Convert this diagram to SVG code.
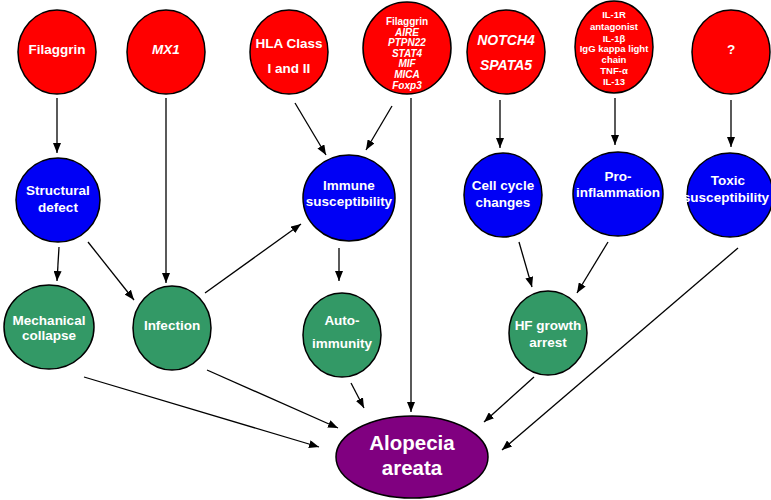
<svg xmlns="http://www.w3.org/2000/svg" width="771" height="500" viewBox="0 0 771 500">
<defs>
<style>
.red{fill:#ff0000;stroke:#000;stroke-width:1.5}
.blue{fill:#0000f5;stroke:#000;stroke-width:1.5}
.green{fill:#339966;stroke:#000;stroke-width:1.5}
.purple{fill:#800080;stroke:#000;stroke-width:1.5}
text{font-family:"Liberation Sans",Arial,sans-serif;font-weight:bold;fill:#fff;text-anchor:middle}
.t{font-size:13.5px}
.s{font-size:10px}
.xs{font-size:9.5px}
.i{font-style:italic}
.big{font-size:20.5px}
.c line{stroke:#000;stroke-width:1.3;marker-end:url(#ah)}
</style>
<marker id="ah" markerUnits="userSpaceOnUse" markerWidth="10" markerHeight="8" refX="10" refY="4" orient="auto">
<path d="M0,0 L10,4 L0,8 z" fill="#000"/>
</marker>
</defs>
<g class="c" id="connectors">
<line x1="57" y1="98" x2="57" y2="153"/>
<line x1="166" y1="98" x2="166" y2="283"/>
<line x1="295" y1="103" x2="326" y2="155"/>
<line x1="392" y1="106" x2="366" y2="150"/>
<line x1="411" y1="98" x2="411" y2="412"/>
<line x1="500" y1="100" x2="500" y2="148"/>
<line x1="615" y1="98" x2="615" y2="145"/>
<line x1="731" y1="100" x2="731" y2="147"/>
<line x1="59" y1="247" x2="57" y2="281"/>
<line x1="88" y1="242" x2="134" y2="300"/>
<line x1="205" y1="293" x2="301" y2="224"/>
<line x1="339" y1="248" x2="339" y2="281"/>
<line x1="519" y1="242" x2="532" y2="287"/>
<line x1="608" y1="242" x2="577" y2="293"/>
<line x1="84" y1="377" x2="319" y2="447"/>
<line x1="207" y1="370" x2="338" y2="428"/>
<line x1="351" y1="383" x2="364" y2="408"/>
<line x1="534" y1="377" x2="484" y2="422"/>
<line x1="738" y1="248" x2="502" y2="450"/>
</g>
<g id="filaggrin"><ellipse class="red" cx="57" cy="52" rx="39" ry="42"/><text class="t" x="57" y="54">Filaggrin</text></g>
<g id="mx1"><ellipse class="red" cx="166" cy="52" rx="39" ry="42"/><text class="t i" x="166" y="54">MX1</text></g>
<g id="hla"><ellipse class="red" cx="289" cy="52" rx="39" ry="42"/><text class="t" x="289" y="48">HLA Class</text><text class="t" x="289" y="73">I and II</text></g>
<g id="genes"><ellipse class="red" cx="407" cy="48" rx="44" ry="46"/>
<text class="s" x="407" y="25">Filaggrin</text>
<text class="s i" x="407" y="36">AIRE</text>
<text class="s i" x="407" y="46">PTPN22</text>
<text class="s i" x="407" y="57">STAT4</text>
<text class="s i" x="407" y="67">MIF</text>
<text class="s i" x="407" y="78">MICA</text>
<text class="s i" x="407" y="89">Foxp3</text></g>
<g id="notch4"><ellipse class="red" cx="506" cy="52" rx="39" ry="42"/><text class="t i" x="506" y="45" style="font-size:14px">NOTCH4</text><text class="t i" x="506" y="70" style="font-size:14px">SPATA5</text></g>
<g id="il1r"><ellipse class="red" cx="614" cy="47" rx="39" ry="46"/>
<text class="xs" x="614" y="18">IL-1R</text>
<text class="xs" x="614" y="30">antagonist</text>
<text class="xs" x="614" y="42">IL-1β</text>
<text class="xs" x="614" y="52">IgG kappa light</text>
<text class="xs" x="614" y="63">chain</text>
<text class="xs" x="614" y="74">TNF-α</text>
<text class="xs" x="614" y="85">IL-13</text></g>
<g id="unknown"><ellipse class="red" cx="731" cy="52" rx="39" ry="42"/><text class="t" x="731" y="54">?</text></g>
<g id="structural"><ellipse class="blue" cx="58" cy="200" rx="42" ry="42"/><text class="t" x="58" y="195">Structural</text><text class="t" x="58" y="212">defect</text></g>
<g id="immune"><ellipse class="blue" cx="349" cy="198" rx="46" ry="43"/><text class="t" x="349" y="190">Immune</text><text class="t" x="349" y="206">susceptibility</text></g>
<g id="cellcycle"><ellipse class="blue" cx="503" cy="195" rx="39" ry="42"/><text class="t" x="503" y="190">Cell cycle</text><text class="t" x="503" y="207">changes</text></g>
<g id="proinflammation"><ellipse class="blue" cx="618" cy="194" rx="45" ry="42"/><text class="t" x="618" y="181">Pro-</text><text class="t" x="618" y="197">inflammation</text></g>
<g id="toxic"><ellipse class="blue" cx="730" cy="195" rx="43" ry="42"/><text class="t" x="728" y="185">Toxic</text><text class="t" x="726" y="202">susceptibility</text></g>
<g id="mechanical"><ellipse class="green" cx="49" cy="327" rx="45" ry="42"/><text class="t" x="49" y="325">Mechanical</text><text class="t" x="49" y="340">collapse</text></g>
<g id="infection"><ellipse class="green" cx="172" cy="328" rx="39" ry="42"/><text class="t" x="172" y="330">Infection</text></g>
<g id="autoimmunity"><ellipse class="green" cx="342" cy="335" rx="39" ry="42"/><text class="t" x="342" y="325">Auto-</text><text class="t" x="342" y="348">immunity</text></g>
<g id="hfgrowth"><ellipse class="green" cx="548" cy="333" rx="39" ry="42"/><text class="t" x="548" y="330">HF growth</text><text class="t" x="548" y="347">arrest</text></g>
<g id="alopecia"><ellipse class="purple" cx="412" cy="457" rx="76" ry="41"/><text class="big" x="412" y="450">Alopecia</text><text class="big" x="412" y="475">areata</text></g>
</svg>
